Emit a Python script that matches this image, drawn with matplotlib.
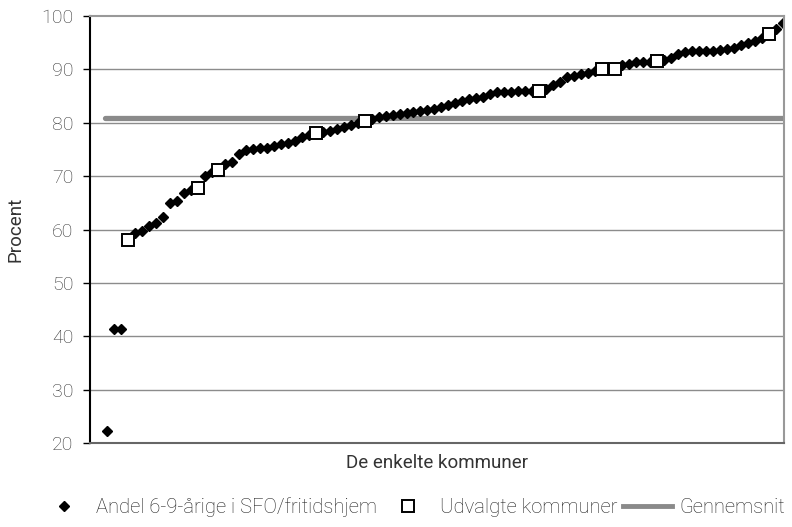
import numpy as np
import matplotlib
matplotlib.use("Agg")
import matplotlib.pyplot as plt
from matplotlib.lines import Line2D

plt.rcParams["font.family"] = ["Roboto", "DejaVu Sans"]
plt.rcParams["font.weight"] = "light"

# Andel 6-9-årige i SFO/fritidshjem, sorted by kommune
andel = [
    22.3, 41.3, 41.3, 58.0, 59.4, 59.8, 60.6, 61.2, 62.4, 65.0,
    65.3, 66.8, 67.4, 67.8, 70.0, 70.7, 71.1, 72.3, 72.7, 74.2,
    74.9, 75.1, 75.2, 75.3, 75.6, 76.0, 76.3, 76.5, 77.4, 77.8,
    78.0, 78.3, 78.5, 78.9, 79.2, 79.5, 79.9, 80.3, 80.7, 81.0,
    81.2, 81.4, 81.6, 81.8, 82.0, 82.2, 82.4, 82.6, 83.0, 83.3,
    83.7, 84.0, 84.4, 84.7, 84.8, 85.3, 85.7, 85.8, 85.8, 85.9,
    85.9, 85.9, 86.0, 86.3, 87.0, 87.7, 88.5, 88.8, 89.1, 89.4,
    89.7, 90.0, 90.0, 90.1, 90.8, 91.1, 91.3, 91.3, 91.4, 91.6,
    91.8, 92.2, 92.8, 93.3, 93.4, 93.5, 93.5, 93.5, 93.6, 93.8,
    94.1, 94.5, 95.0, 95.4, 95.8, 96.6, 97.6, 98.7,
]
# positions (rank) of the selected kommuner
udvalgte_idx = [3, 13, 16, 30, 37, 62, 71, 73, 79, 95]
gennemsnit = 80.9

x = np.arange(len(andel))
andel = np.array(andel)

fig = plt.figure(figsize=(7.92, 5.27), dpi=100)
ax = fig.add_axes([0.1136, 0.1594, 0.8763, 0.8102])

for y in range(30, 100, 10):
    ax.axhline(y, color="#8c8c8c", lw=1.0, zorder=0)

ax.plot([x[0] - 0.3, x[-1] + 0.2], [gennemsnit, gennemsnit], color="#8a8a8a",
        lw=3.8, solid_capstyle="round", zorder=1)
ax.plot(x, andel, ls="none", marker="D", ms=5, color="black", zorder=2)
ax.plot(x[udvalgte_idx], andel[udvalgte_idx], ls="none", marker="s", ms=9,
        mfc="white", mec="black", mew=1.4, zorder=3)

ax.set_xlim(-2.45, 97.2)
ax.set_ylim(20, 100)
ax.set_yticks(range(20, 101, 10))
ax.set_xticks([])
ax.tick_params(axis="y", direction="out", length=5, width=1, labelsize=14,
               colors="black", labelcolor="#333333", pad=7)

for side in ["top", "right"]:
    ax.spines[side].set_color("#999999")
    ax.spines[side].set_linewidth(1.5)
ax.spines["bottom"].set_color("#666666")
ax.spines["bottom"].set_linewidth(1.5)
ax.spines["left"].set_color("black")
ax.spines["left"].set_linewidth(1.5)

ax.set_ylabel("Procent", fontsize=13.5, color="#333333", labelpad=12)
ax.set_xlabel("De enkelte kommuner", fontsize=13.5, color="#333333", labelpad=8)

handles = [
    Line2D([], [], ls="none", marker="D", ms=5, color="black"),
    Line2D([], [], ls="none", marker="s", ms=8, mfc="white", mec="black", mew=1.4),
    Line2D([], [], color="#8a8a8a", lw=3.5),
]
labels = ["Andel 6-9-årige i SFO/fritidshjem", "Udvalgte kommuner", "Gennemsnit"]
fig.legend(handles, labels, loc="center", bbox_to_anchor=(0.521, 0.038), ncol=3,
           frameon=False, fontsize=14.5, handlelength=2.4, handletextpad=0.4,
           columnspacing=0.3, labelcolor="#222222")

fig.savefig("out.png", dpi=100)
